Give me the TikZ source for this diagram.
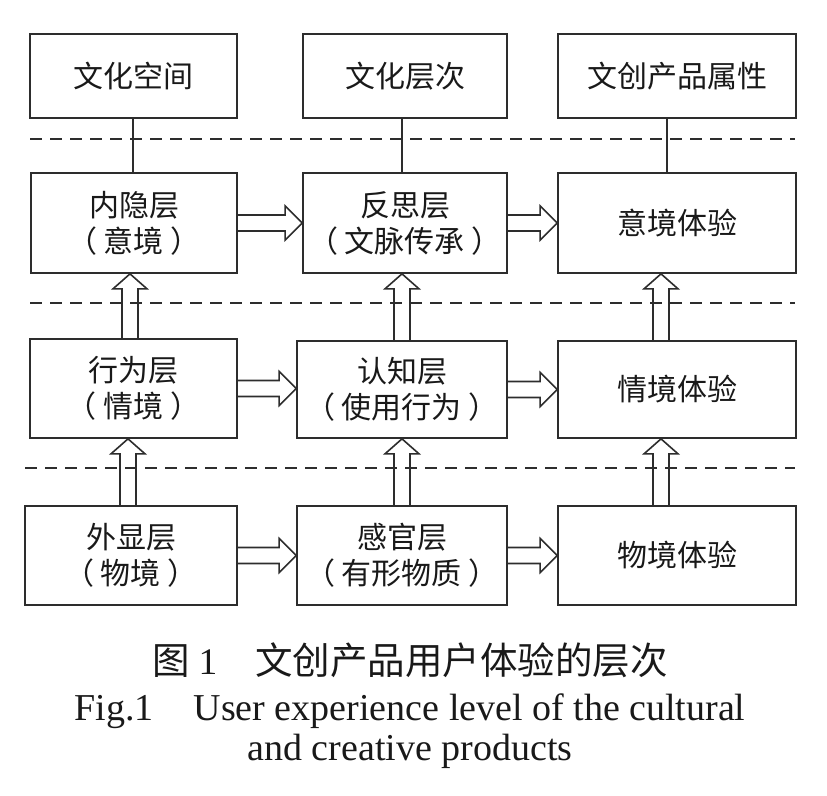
\documentclass[tikz,border=0pt]{standalone}
\usepackage{fontspec}
\setmainfont{Liberation Serif}
\newfontfamily\cjk{Noto Sans CJK SC}
\usetikzlibrary{calc}
\definecolor{lc}{RGB}{45,45,45}
\definecolor{tc}{RGB}{25,25,25}
\tikzset{
  box/.style={draw=lc, line width=1.7pt, inner sep=0pt, align=center, text=tc,
    font=\cjk\fontsize{30}{36}\selectfont},
  arr/.style={draw=lc, line width=1.6pt, line join=miter},
  sepline/.style={draw=lc, line width=1.6pt, dash pattern=on 12pt off 8pt},
  linkline/.style={draw=lc, line width=1.6pt},
  captxt/.style={text=tc, align=center, inner sep=0pt}
}
\newcommand{\pn}[1]{（\kern7pt#1\kern7pt）}
\newcommand{\boxat}[6]{% name, x1, y1, x2, y2, text
  \node[box, minimum width={#4-#2}, minimum height={#5-#3}] (#1) at ({(#2+#4)/2},{(#3+#5)/2}) {#6};}
\newcommand{\hollowR}[2]{%
  \draw[arr] let \p1=(#1.east), \p2=(#2.west) in
    (\x1,\y1+8pt) -- (\x2-17pt,\y1+8pt) -- (\x2-17pt,\y1+17pt) -- (\x2,\y1)
    -- (\x2-17pt,\y1-17pt) -- (\x2-17pt,\y1-8pt) -- (\x1,\y1-8pt);}
\newcommand{\hollowU}[3]{%
  \draw[arr] let \p1=(#1.south), \p2=(#2.north) in
    (#3-8pt,\y2) -- (#3-8pt,\y1-15pt) -- (#3-17pt,\y1-15pt) -- (#3,\y1)
    -- (#3+17pt,\y1-15pt) -- (#3+8pt,\y1-15pt) -- (#3+8pt,\y2);}
\begin{document}
\begin{tikzpicture}[x=1pt,y=-1pt]
\useasboundingbox (0,0) rectangle (827,795);
% row 0
\boxat{a0}{30}{34}{237}{118}{文化空间}
\boxat{b0}{303}{34}{507}{118}{文化层次}
\boxat{c0}{558}{34}{796}{118}{文创产品属性}
% row 1
\boxat{a1}{31}{173}{237}{273}{内隐层\\\pn{意境}}
\boxat{b1}{303}{173}{507}{273}{反思层\\\pn{文脉传承}}
\boxat{c1}{558}{173}{796}{273}{意境体验}
% row 2
\boxat{a2}{30}{339}{237}{438}{行为层\\\pn{情境}}
\boxat{b2}{297}{341}{507}{438}{认知层\\\pn{使用行为}}
\boxat{c2}{558}{341}{796}{438}{情境体验}
% row 3
\boxat{a3}{25}{506}{237}{605}{外显层\\\pn{物境}}
\boxat{b3}{297}{506}{507}{605}{感官层\\\pn{有形物质}}
\boxat{c3}{558}{506}{796}{605}{物境体验}
% dashed separators
\coordinate (s1l) at (30,139); \coordinate (s1r) at (795,139);
\coordinate (s2l) at (30,303); \coordinate (s2r) at (795,303);
\coordinate (s3l) at (25,468); \coordinate (s3r) at (795,468);
\draw[sepline] (s1l) -- (s1r);
\draw[sepline] (s2l) -- (s2r);
\draw[sepline] (s3l) -- (s3r);
% thin links
\draw[linkline] (a0.south -| 133,0) -- (a1.north -| 133,0);
\draw[linkline] (b0.south -| 402,0) -- (b1.north -| 402,0);
\draw[linkline] (c0.south -| 667,0) -- (c1.north -| 667,0);
% horizontal hollow arrows
\hollowR{a1}{b1}\hollowR{b1}{c1}
\hollowR{a2}{b2}\hollowR{b2}{c2}
\hollowR{a3}{b3}\hollowR{b3}{c3}
% vertical hollow arrows
\hollowU{a1}{a2}{130pt}\hollowU{a2}{a3}{128pt}
\hollowU{b1}{b2}{402pt}\hollowU{b2}{b3}{402pt}
\hollowU{c1}{c2}{661pt}\hollowU{c2}{c3}{661pt}
% caption
\node[captxt, font=\fontsize{37.5}{40}\selectfont] (cap1) at (410,660) {{\cjk 图}\hspace{9pt}1\hspace{38pt}{\cjk 文创产品用户体验的层次}};
\node[captxt, font=\fontsize{38}{40}\selectfont] (cap2) at (410,711) {Fig.1\hspace{40pt}User experience level of the cultural};
\node[captxt, font=\fontsize{38}{40}\selectfont] (cap3) at (410,751) {and creative products};
\end{tikzpicture}
\end{document}
